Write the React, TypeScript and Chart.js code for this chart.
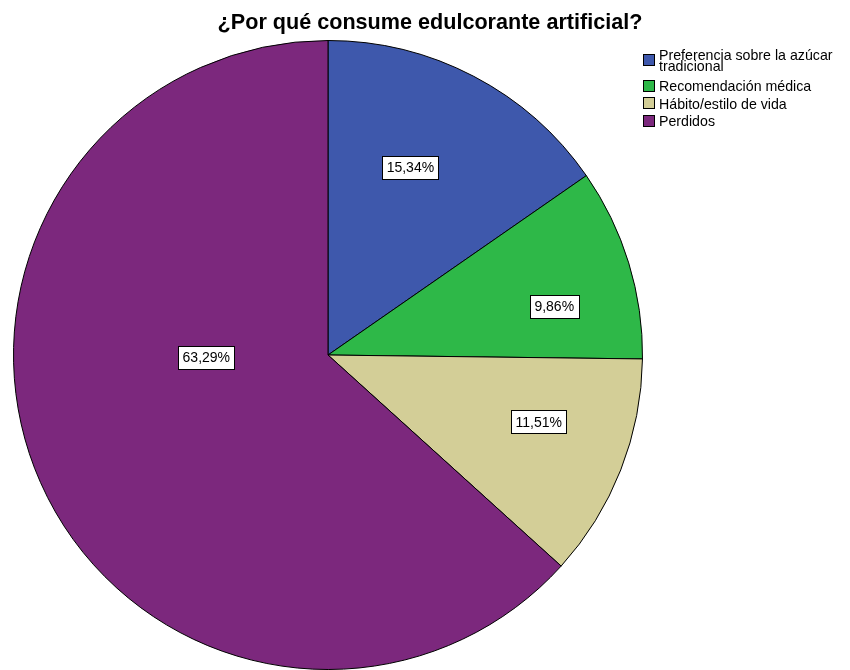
import { useEffect, useRef } from "react";
import { Chart, registerables } from "chart.js";

Chart.register(...registerables);

const TITLE = "¿Por qué consume edulcorante artificial?";
const categories: string[][] = [
  ["Preferencia sobre la azúcar", "tradicional"],
  ["Recomendación médica"],
  ["Hábito/estilo de vida"],
  ["Perdidos"],
];
const percentages = [15.34, 9.86, 11.51, 63.29];
const sliceColors = ["#3E58AC", "#2EB848", "#D3CE97", "#7C287D"];

// Where each value label sits inside its slice:
// fraction of the way through the slice's sweep, and fraction of the radius.
const labelSweepFrac = [0.429, 0.636, 0.407, 0.6];
const labelRadiusFrac = [0.652, 0.736, 0.703, 0.387];

const FONT = "'Liberation Sans', Arial, sans-serif";

const formatPct = (v: number) => v.toFixed(2).replace(".", ",") + "%";

const decorations = {
  id: "pieDecorations",
  afterDraw(chart: any) {
    const ctx: CanvasRenderingContext2D = chart.ctx;
    ctx.save();

    // Title
    ctx.fillStyle = "#000";
    ctx.font = `bold 21.6px ${FONT}`;
    ctx.textAlign = "center";
    ctx.textBaseline = "alphabetic";
    ctx.fillText(TITLE, 430, 29);

    // Value labels in white boxes
    const meta = chart.getDatasetMeta(0);
    ctx.font = `14px ${FONT}`;
    meta.data.forEach((arc: any, i: number) => {
      const p = arc.getProps(["x", "y", "startAngle", "endAngle", "outerRadius"], true);
      const a = p.startAngle + labelSweepFrac[i] * (p.endAngle - p.startAngle);
      const r = labelRadiusFrac[i] * p.outerRadius;
      const cx = p.x + Math.cos(a) * r;
      const cy = p.y + Math.sin(a) * r;
      const text = formatPct(percentages[i]);
      const w = Math.round(ctx.measureText(text).width + 9);
      const h = 23;
      const bx = Math.round(cx - w / 2) + 0.5;
      const by = Math.round(cy - h / 2) + 0.5;
      ctx.fillStyle = "#fff";
      ctx.fillRect(bx, by, w, h);
      ctx.strokeStyle = "#000";
      ctx.lineWidth = 1;
      ctx.strokeRect(bx, by, w, h);
      ctx.fillStyle = "#000";
      ctx.textAlign = "center";
      ctx.textBaseline = "middle";
      ctx.fillText(text, cx, cy + 1);
    });

    // Legend
    const lx = 643;
    const tx = 659;
    const lineH = 11.5;
    const capH = 10.6;
    let baseline = 59.5;
    ctx.font = `14.2px ${FONT}`;
    ctx.textAlign = "left";
    ctx.textBaseline = "alphabetic";
    categories.forEach((lines, i) => {
      const first = baseline;
      lines.forEach((ln, j) => {
        ctx.fillStyle = "#000";
        ctx.fillText(ln, tx, baseline + j * lineH);
      });
      const last = first + (lines.length - 1) * lineH;
      const mid = (first - capH + last) / 2;
      const bs = 12;
      const by = Math.round(mid - bs / 2) + 0.5;
      ctx.fillStyle = sliceColors[i];
      ctx.fillRect(lx + 0.5, by, bs - 1, bs - 1);
      ctx.strokeStyle = "#000";
      ctx.lineWidth = 1;
      ctx.strokeRect(lx + 0.5, by, bs - 1, bs - 1);
      baseline = last + (lines.length > 1 ? 20 : 17.7);
    });

    ctx.restore();
  },
};

export default function App() {
  const canvasRef = useRef<HTMLCanvasElement | null>(null);

  useEffect(() => {
    const canvas = canvasRef.current;
    if (!canvas) return;
    const chart = new Chart(canvas, {
      type: "pie",
      data: {
        labels: categories.map((c) => c.join(" ")),
        datasets: [
          {
            data: percentages,
            backgroundColor: sliceColors,
            borderColor: "#000",
            borderWidth: 1,
          },
        ],
      },
      options: {
        responsive: false,
        animation: false,
        layout: { padding: { left: 12, right: 206, top: 40, bottom: -2 } },
        plugins: {
          legend: { display: false },
          title: { display: false },
          tooltip: { enabled: false },
        },
      },
      plugins: [decorations],
    });
    return () => chart.destroy();
  }, []);

  return (
    <div style={{ position: "absolute", left: 0, top: 0, width: 850, height: 670, background: "#fff" }}>
      <canvas ref={canvasRef} width={850} height={670} />
    </div>
  );
}
